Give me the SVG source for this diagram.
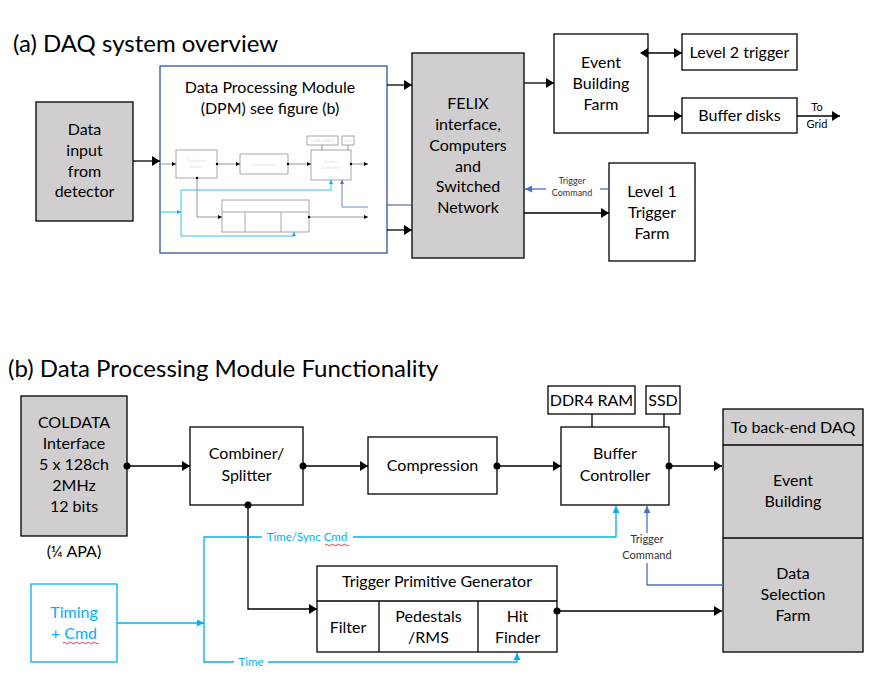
<svg xmlns="http://www.w3.org/2000/svg" width="887" height="685" viewBox="0 0 887 685">
<defs>
<style>
text{font-family:Lato,"Open Sans","Liberation Sans",sans-serif;fill:#000;}
.t{font-size:24px;}
.n{font-size:16px;text-anchor:middle;}
.s{font-size:16px;text-anchor:middle;}
.lab{font-size:11px;text-anchor:middle;}
.tiny{font-size:9px;text-anchor:middle;fill:#333;}
.box{fill:#fff;stroke:#000;stroke-width:1.3;}
.gbox{fill:#d0cece;stroke:#000;stroke-width:1.3;}
.ln{fill:none;stroke:#000;stroke-width:1.3;}
.lb{fill:none;stroke:#00b0f0;stroke-width:1.3;}
.db{fill:none;stroke:#4472c4;stroke-width:1.3;}
.mbox{fill:#fff;stroke:#a6a6a6;stroke-width:1;}
.mln{fill:none;stroke:#7f7f7f;stroke-width:0.8;}
.mlb{fill:none;stroke:#00b0f0;stroke-width:0.8;}
.mdb{fill:none;stroke:#4472c4;stroke-width:0.8;}
.mt{font-size:4.5px;text-anchor:middle;fill:#e3e3e3;}
.blue{fill:#00b0f0;}
</style>
<marker id="ah" markerUnits="userSpaceOnUse" markerWidth="8" markerHeight="10" refX="8" refY="5" orient="auto"><path d="M0,0 L8,5 L0,10 z" fill="#000"/></marker>
<marker id="ahs" markerUnits="userSpaceOnUse" markerWidth="8" markerHeight="10" refX="0" refY="5" orient="auto-start-reverse"><path d="M0,0 L8,5 L0,10 z" fill="#000"/></marker>
<marker id="ahb" markerUnits="userSpaceOnUse" markerWidth="7" markerHeight="7" refX="7" refY="3.5" orient="auto"><path d="M0,0 L7,3.5 L0,7 z" fill="#00b0f0"/></marker>
<marker id="ahd" markerUnits="userSpaceOnUse" markerWidth="7" markerHeight="7" refX="7" refY="3.5" orient="auto"><path d="M0,0 L7,3.5 L0,7 z" fill="#4472c4"/></marker>
<marker id="mah" markerUnits="userSpaceOnUse" markerWidth="4" markerHeight="4" refX="4" refY="2" orient="auto"><path d="M0,0 L4,2 L0,4 z" fill="#000"/></marker>
<marker id="mahb" markerUnits="userSpaceOnUse" markerWidth="4" markerHeight="4" refX="4" refY="2" orient="auto"><path d="M0,0 L4,2 L0,4 z" fill="#00b0f0"/></marker>
<marker id="mahd" markerUnits="userSpaceOnUse" markerWidth="4" markerHeight="4" refX="4" refY="2" orient="auto"><path d="M0,0 L4,2 L0,4 z" fill="#4472c4"/></marker>
</defs>
<rect width="887" height="685" fill="#fff"/>

<text class="t" x="13" y="52">(a) DAQ system overview</text>
<text class="t" x="8" y="377">(b) Data Processing Module Functionality</text>

<!-- ===== Top nodes ===== -->
<g id="data-input">
<rect class="gbox" x="36" y="102" width="97" height="119"/>
<text class="n" x="84.5" y="135">Data</text>
<text class="n" x="84.5" y="156">input</text>
<text class="n" x="84.5" y="177">from</text>
<text class="n" x="84.5" y="197">detector</text>
</g>

<g id="dpm">
<rect x="160" y="66" width="227" height="187" fill="#fff" stroke="#2f5597" stroke-width="1.3"/>
<text class="s" x="270" y="93">Data Processing Module</text>
<text class="s" x="270" y="114">(DPM) see figure (b)</text>
<g id="dpm-mini">
<rect class="mbox" x="176" y="150" width="41" height="28"/>
<text class="mt" x="196.5" y="162">Combiner/</text>
<text class="mt" x="196.5" y="168">Splitter</text>
<rect class="mbox" x="240" y="154" width="48" height="20"/>
<text class="mt" x="264" y="166">Compression</text>
<rect class="mbox" x="311" y="150" width="40" height="30"/>
<text class="mt" x="331" y="163">Buffer</text>
<text class="mt" x="331" y="169">Controller</text>
<rect class="mbox" x="307" y="136" width="31" height="9"/>
<text class="mt" x="322.5" y="142">DDR4 RAM</text>
<rect class="mbox" x="342" y="136" width="12" height="9"/>
<text class="mt" x="348" y="142">SSD</text>
<line class="mln" x1="322" y1="145" x2="322" y2="150"/>
<line class="mln" x1="348" y1="145" x2="348" y2="150"/>
<rect class="mbox" x="222" y="200" width="87" height="32"/>
<line class="mbox" x1="222" y1="212" x2="309" y2="212"/>
<line class="mbox" x1="245" y1="212" x2="245" y2="232"/>
<line class="mbox" x1="281" y1="212" x2="281" y2="232"/>
<line class="mln" x1="160" y1="164" x2="176" y2="164" marker-end="url(#mah)"/>
<line class="mln" x1="217" y1="164" x2="240" y2="164" marker-end="url(#mah)"/>
<line class="mln" x1="288" y1="164" x2="311" y2="164" marker-end="url(#mah)"/>
<line class="mln" x1="351" y1="164" x2="368" y2="164" marker-end="url(#mah)"/>
<polyline class="mln" points="197,178 197,217 222,217" marker-end="url(#mah)"/>
<line class="mln" x1="309" y1="217" x2="368" y2="217" marker-end="url(#mah)"/>
<circle cx="217" cy="164" r="1.2"/><circle cx="288" cy="164" r="1.2"/><circle cx="351" cy="164" r="1.2"/>
<circle cx="197" cy="178" r="1.2"/><circle cx="309" cy="217" r="1.2"/>
<line class="mlb" x1="160" y1="212" x2="181" y2="212" marker-end="url(#mahb)"/>
<polyline class="mlb" points="331,190 181,190 181,236 294,236"/>
<line class="mlb" x1="331" y1="190" x2="331" y2="180" marker-end="url(#mahb)"/>
<line class="mlb" x1="294" y1="236" x2="294" y2="232" marker-end="url(#mahb)"/>
<polyline class="mdb" points="368,207 342,207 342,180" marker-end="url(#mahd)"/>
</g>
</g>

<g id="felix">
<rect class="gbox" x="412" y="53" width="112" height="205"/>
<text class="n" x="468" y="109">FELIX</text>
<text class="n" x="468" y="130">interface,</text>
<text class="n" x="468" y="151">Computers</text>
<text class="n" x="468" y="172">and</text>
<text class="n" x="468" y="192">Switched</text>
<text class="n" x="468" y="213">Network</text>
</g>

<g id="event-building-farm">
<rect class="box" x="554" y="34" width="94" height="99"/>
<text class="n" x="601" y="68">Event</text>
<text class="n" x="601" y="89">Building</text>
<text class="n" x="601" y="110">Farm</text>
</g>

<g id="level2">
<rect class="box" x="682" y="34" width="115" height="36"/>
<text class="n" x="739.5" y="58">Level 2 trigger</text>
</g>

<g id="buffer-disks">
<rect class="box" x="682" y="98" width="115" height="35"/>
<text class="n" x="739.5" y="121">Buffer disks</text>
</g>

<g id="level1">
<rect class="box" x="609" y="163" width="86" height="98"/>
<text class="n" x="652" y="197">Level 1</text>
<text class="n" x="652" y="218">Trigger</text>
<text class="n" x="652" y="239">Farm</text>
</g>

<!-- ===== Bottom nodes ===== -->
<g id="coldata">
<rect class="gbox" x="21" y="396" width="106" height="140"/>
<text class="n" x="74" y="428">COLDATA</text>
<text class="n" x="74" y="449">Interface</text>
<text class="n" x="74" y="470">5 x 128ch</text>
<text class="n" x="74" y="491">2MHz</text>
<text class="n" x="74" y="512">12 bits</text>
<text class="n" x="74" y="557">(¼ APA)</text>
</g>

<g id="combiner">
<rect class="box" x="190" y="427" width="113" height="78"/>
<text class="n" x="246.5" y="459">Combiner/</text>
<text class="n" x="246.5" y="481">Splitter</text>
</g>

<g id="compression">
<rect class="box" x="368" y="437" width="129" height="57"/>
<text class="n" x="432.5" y="471">Compression</text>
</g>

<g id="buffer-controller">
<rect class="box" x="561" y="427" width="108" height="78"/>
<text class="n" x="615" y="459">Buffer</text>
<text class="n" x="615" y="481">Controller</text>
</g>

<g id="ddr4">
<rect class="box" x="548" y="386" width="87" height="28"/>
<text class="n" x="591.5" y="406">DDR4 RAM</text>
</g>

<g id="ssd">
<rect class="box" x="646" y="386" width="34" height="28"/>
<text class="n" x="663" y="406">SSD</text>
</g>

<g id="backend">
<rect class="gbox" x="723" y="409" width="140" height="243"/>
<line class="ln" x1="723" y1="445" x2="863" y2="445"/>
<line class="ln" x1="723" y1="538" x2="863" y2="538"/>
<text class="n" x="793" y="433">To back-end DAQ</text>
<text class="n" x="793" y="486">Event</text>
<text class="n" x="793" y="507">Building</text>
<text class="n" x="793" y="579">Data</text>
<text class="n" x="793" y="600">Selection</text>
<text class="n" x="793" y="621">Farm</text>
</g>

<g id="timing">
<rect x="31" y="584" width="86" height="78" fill="#fff" stroke="#00b0f0" stroke-width="1.3"/>
<text class="n blue" x="74" y="618">Timing</text>
<text class="n blue" x="74" y="639">+ Cmd</text>
<path d="M63,643 q1.5,-1.5 3,0 t3,0 t3,0 t3,0 t3,0 t3,0 t3,0 t3,0 t3,0 t3,0 t3,0 t3,0" fill="none" stroke="#e00" stroke-width="0.8"/>
</g>

<g id="tpg">
<rect class="box" x="317" y="566" width="240" height="86"/>
<line class="ln" x1="317" y1="601" x2="557" y2="601"/>
<line class="ln" x1="379" y1="601" x2="379" y2="652"/>
<line class="ln" x1="478" y1="601" x2="478" y2="652"/>
<text class="n" x="437" y="587">Trigger Primitive Generator</text>
<text class="n" x="348" y="633">Filter</text>
<text class="n" x="428.5" y="622">Pedestals</text>
<text class="n" x="428.5" y="643">/RMS</text>
<text class="n" x="517.5" y="622">Hit</text>
<text class="n" x="517.5" y="643">Finder</text>
</g>

<!-- ===== Connectors ===== -->
<g id="connectors">
<line class="ln" x1="133" y1="161" x2="160" y2="161" marker-end="url(#ah)"/>
<line class="ln" x1="387" y1="85" x2="412" y2="85" marker-end="url(#ah)"/>
<line class="ln" x1="387" y1="230" x2="412" y2="230" marker-end="url(#ah)"/>
<line x1="387" y1="205" x2="412" y2="205" stroke="#2f5597" stroke-width="1"/>
<line class="ln" x1="524" y1="83" x2="554" y2="83" marker-end="url(#ah)"/>
<line class="ln" x1="648" y1="53" x2="682" y2="53" marker-start="url(#ahs)" marker-end="url(#ah)"/>
<line class="ln" x1="648" y1="116" x2="682" y2="116" marker-end="url(#ah)"/>
<line class="ln" x1="797" y1="116" x2="840" y2="116" marker-end="url(#ah)"/>
<text class="lab" x="817" y="111">To</text>
<text class="lab" x="817" y="128">Grid</text>
<line class="ln" x1="524" y1="213" x2="609" y2="213" marker-end="url(#ah)"/>
<line class="db" x1="609" y1="189" x2="600" y2="189"/>
<line class="db" x1="546" y1="189" x2="525" y2="189" marker-end="url(#ahd)"/>
<text class="tiny" x="572" y="184">Trigger</text>
<text class="tiny" x="572" y="196">Command</text>

<line class="ln" x1="127" y1="466" x2="190" y2="466" marker-end="url(#ah)"/>
<line class="ln" x1="303" y1="466" x2="368" y2="466" marker-end="url(#ah)"/>
<line class="ln" x1="497" y1="466" x2="561" y2="466" marker-end="url(#ah)"/>
<line class="ln" x1="669" y1="466" x2="722" y2="466" marker-end="url(#ah)"/>
<line class="ln" x1="592" y1="414" x2="592" y2="427"/>
<line class="ln" x1="664" y1="414" x2="664" y2="427"/>
<polyline class="ln" points="248,505 248,609 317,609" marker-end="url(#ah)"/>
<line class="ln" x1="557" y1="611" x2="722" y2="611" marker-end="url(#ah)"/>
<circle cx="127" cy="466" r="3.5"/><circle cx="303" cy="466" r="3.5"/><circle cx="497" cy="466" r="3.5"/>
<circle cx="669" cy="466" r="3.5"/><circle cx="248" cy="505" r="3.5"/><circle cx="557" cy="611" r="3.5"/>

<line class="lb" x1="117" y1="623" x2="204" y2="623" marker-end="url(#ahb)"/>
<polyline class="lb" points="262,537 204,537 204,662 234,662"/>
<polyline class="lb" points="353,537 616,537 616,506" marker-end="url(#ahb)"/>
<polyline class="lb" points="268,662 517,662 517,653" marker-end="url(#ahb)"/>
<text class="lab" x="307" y="541" style="fill:#00b0f0;font-size:11.5px">Time/Sync Cmd</text>
<path d="M325,545 q1.5,-1.5 3,0 t3,0 t3,0 t3,0 t3,0 t3,0 t3,0 t3,0" fill="none" stroke="#e00" stroke-width="0.8"/>
<text class="lab" x="251" y="666" style="fill:#00b0f0;font-size:11.5px">Time</text>

<polyline class="db" points="723,585 647,585 647,563"/>
<line class="db" x1="647" y1="533" x2="647" y2="506" marker-end="url(#ahd)"/>
<text class="lab" x="647" y="543" style="fill:#333">Trigger</text>
<text class="lab" x="647" y="559" style="fill:#333">Command</text>
</g>
</svg>
